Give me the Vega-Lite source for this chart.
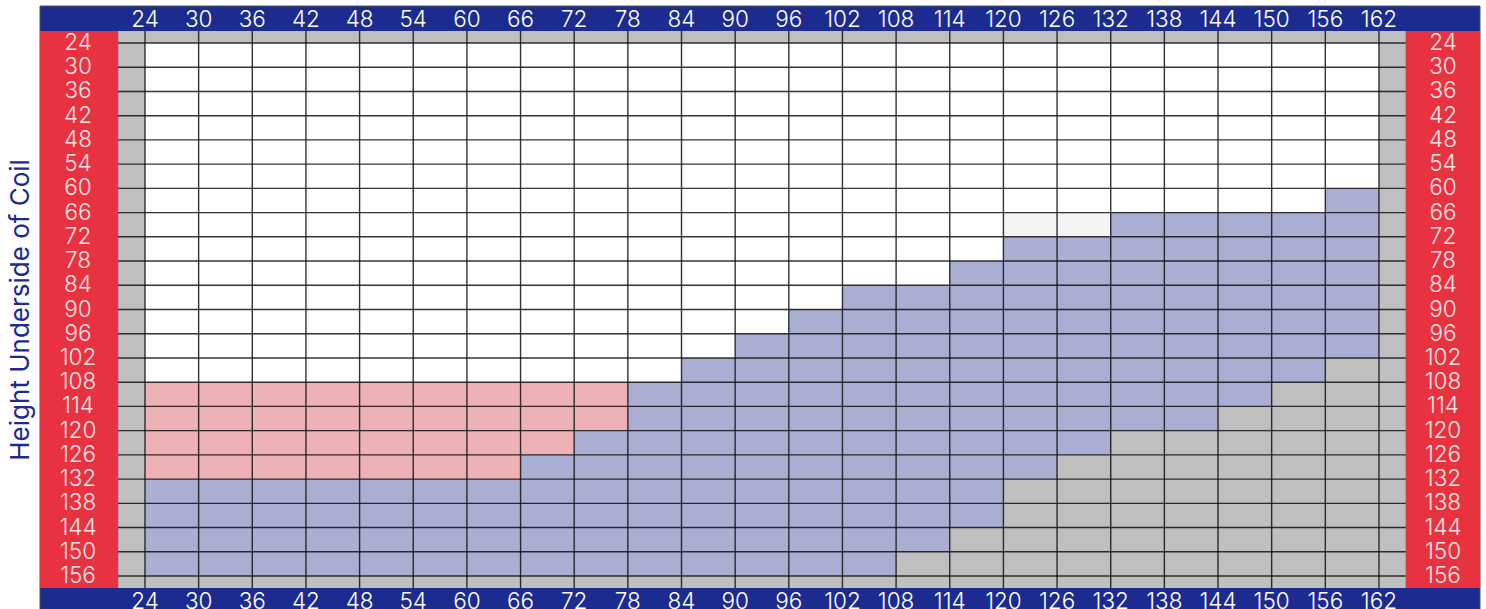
{
  "$schema": "https://vega.github.io/schema/vega-lite/v6.json",
  "width": 1486,
  "height": 609,
  "autosize": {"type": "none"},
  "padding": 0,
  "background": "#ffffff",
  "config": {"view": {"stroke": null}},
  "datasets": {
    "cells": [
      {"x": 24, "x2": 30, "y": 24, "y2": 108, "k": "W"}, {"x": 24, "x2": 30, "y": 108, "y2": 132, "k": "P"}, {"x": 24, "x2": 30, "y": 132, "y2": 156, "k": "B"},
      {"x": 30, "x2": 36, "y": 24, "y2": 108, "k": "W"}, {"x": 30, "x2": 36, "y": 108, "y2": 132, "k": "P"}, {"x": 30, "x2": 36, "y": 132, "y2": 156, "k": "B"},
      {"x": 36, "x2": 42, "y": 24, "y2": 108, "k": "W"}, {"x": 36, "x2": 42, "y": 108, "y2": 132, "k": "P"}, {"x": 36, "x2": 42, "y": 132, "y2": 156, "k": "B"},
      {"x": 42, "x2": 48, "y": 24, "y2": 108, "k": "W"}, {"x": 42, "x2": 48, "y": 108, "y2": 132, "k": "P"}, {"x": 42, "x2": 48, "y": 132, "y2": 156, "k": "B"},
      {"x": 48, "x2": 54, "y": 24, "y2": 108, "k": "W"}, {"x": 48, "x2": 54, "y": 108, "y2": 132, "k": "P"}, {"x": 48, "x2": 54, "y": 132, "y2": 156, "k": "B"},
      {"x": 54, "x2": 60, "y": 24, "y2": 108, "k": "W"}, {"x": 54, "x2": 60, "y": 108, "y2": 132, "k": "P"}, {"x": 54, "x2": 60, "y": 132, "y2": 156, "k": "B"},
      {"x": 60, "x2": 66, "y": 24, "y2": 108, "k": "W"}, {"x": 60, "x2": 66, "y": 108, "y2": 132, "k": "P"}, {"x": 60, "x2": 66, "y": 132, "y2": 156, "k": "B"},
      {"x": 66, "x2": 72, "y": 24, "y2": 108, "k": "W"}, {"x": 66, "x2": 72, "y": 108, "y2": 126, "k": "P"}, {"x": 66, "x2": 72, "y": 126, "y2": 156, "k": "B"},
      {"x": 72, "x2": 78, "y": 24, "y2": 108, "k": "W"}, {"x": 72, "x2": 78, "y": 108, "y2": 120, "k": "P"}, {"x": 72, "x2": 78, "y": 120, "y2": 156, "k": "B"},
      {"x": 78, "x2": 84, "y": 24, "y2": 108, "k": "W"}, {"x": 78, "x2": 84, "y": 108, "y2": 156, "k": "B"},
      {"x": 84, "x2": 90, "y": 24, "y2": 102, "k": "W"}, {"x": 84, "x2": 90, "y": 102, "y2": 156, "k": "B"},
      {"x": 90, "x2": 96, "y": 24, "y2": 96, "k": "W"}, {"x": 90, "x2": 96, "y": 96, "y2": 156, "k": "B"},
      {"x": 96, "x2": 102, "y": 24, "y2": 90, "k": "W"}, {"x": 96, "x2": 102, "y": 90, "y2": 156, "k": "B"},
      {"x": 102, "x2": 108, "y": 24, "y2": 84, "k": "W"}, {"x": 102, "x2": 108, "y": 84, "y2": 156, "k": "B"},
      {"x": 108, "x2": 114, "y": 24, "y2": 84, "k": "W"}, {"x": 108, "x2": 114, "y": 84, "y2": 150, "k": "B"},
      {"x": 114, "x2": 120, "y": 24, "y2": 78, "k": "W"}, {"x": 114, "x2": 120, "y": 78, "y2": 144, "k": "B"},
      {"x": 120, "x2": 126, "y": 24, "y2": 66, "k": "W"}, {"x": 120, "x2": 126, "y": 66, "y2": 72, "k": "L"}, {"x": 120, "x2": 126, "y": 72, "y2": 132, "k": "B"},
      {"x": 126, "x2": 132, "y": 24, "y2": 66, "k": "W"}, {"x": 126, "x2": 132, "y": 66, "y2": 72, "k": "L"}, {"x": 126, "x2": 132, "y": 72, "y2": 126, "k": "B"},
      {"x": 132, "x2": 138, "y": 24, "y2": 66, "k": "W"}, {"x": 132, "x2": 138, "y": 66, "y2": 120, "k": "B"},
      {"x": 138, "x2": 144, "y": 24, "y2": 66, "k": "W"}, {"x": 138, "x2": 144, "y": 66, "y2": 120, "k": "B"},
      {"x": 144, "x2": 150, "y": 24, "y2": 66, "k": "W"}, {"x": 144, "x2": 150, "y": 66, "y2": 114, "k": "B"},
      {"x": 150, "x2": 156, "y": 24, "y2": 66, "k": "W"}, {"x": 150, "x2": 156, "y": 66, "y2": 108, "k": "B"},
      {"x": 156, "x2": 162, "y": 24, "y2": 60, "k": "W"}, {"x": 156, "x2": 162, "y": 60, "y2": 102, "k": "B"}
    ],
    "cols": [
      {"v": 24}, {"v": 30}, {"v": 36}, {"v": 42}, {"v": 48}, {"v": 54}, {"v": 60}, {"v": 66}, {"v": 72}, {"v": 78}, {"v": 84}, {"v": 90},
      {"v": 96}, {"v": 102}, {"v": 108}, {"v": 114}, {"v": 120}, {"v": 126}, {"v": 132}, {"v": 138}, {"v": 144}, {"v": 150}, {"v": 156}, {"v": 162}
    ],
    "rows": [
      {"v": 24}, {"v": 30}, {"v": 36}, {"v": 42}, {"v": 48}, {"v": 54}, {"v": 60}, {"v": 66}, {"v": 72}, {"v": 78}, {"v": 84}, {"v": 90},
      {"v": 96}, {"v": 102}, {"v": 108}, {"v": 114}, {"v": 120}, {"v": 126}, {"v": 132}, {"v": 138}, {"v": 144}, {"v": 150}, {"v": 156}
    ]
  },
  "layer": [
    {
      "data": {"values": [{}]},
      "mark": {"type": "rect", "color": "#1b2b8f", "stroke": "#555555", "strokeWidth": 1},
      "encoding": {
        "x": {"datum": 12.26, "type": "quantitative", "scale": {"domain": [7.785, 173.97], "nice": false, "zero": false}, "axis": null},
        "x2": {"datum": 173.3},
        "y": {"datum": 14.84, "type": "quantitative", "scale": {"domain": [13.351, 164.17], "nice": false, "zero": false, "reverse": true}, "axis": null},
        "y2": {"datum": 166}
      }
    },
    {
      "data": {"values": [{}]},
      "mark": {"type": "rect", "color": "#e8323f"},
      "encoding": {
        "x": {"datum": 12.26, "type": "quantitative", "scale": {"domain": [7.785, 173.97], "nice": false, "zero": false}, "axis": null},
        "x2": {"datum": 21},
        "y": {"datum": 21, "type": "quantitative", "scale": {"domain": [13.351, 164.17], "nice": false, "zero": false, "reverse": true}, "axis": null},
        "y2": {"datum": 159}
      }
    },
    {
      "data": {"values": [{}]},
      "mark": {"type": "rect", "color": "#e8323f"},
      "encoding": {
        "x": {"datum": 165, "type": "quantitative", "scale": {"domain": [7.785, 173.97], "nice": false, "zero": false}, "axis": null},
        "x2": {"datum": 173.3},
        "y": {"datum": 21, "type": "quantitative", "scale": {"domain": [13.351, 164.17], "nice": false, "zero": false, "reverse": true}, "axis": null},
        "y2": {"datum": 159}
      }
    },
    {
      "data": {"values": [{}]},
      "mark": {"type": "rect", "color": "#bfbfbf"},
      "encoding": {
        "x": {"datum": 21, "type": "quantitative", "scale": {"domain": [7.785, 173.97], "nice": false, "zero": false}, "axis": null},
        "x2": {"datum": 165},
        "y": {"datum": 21, "type": "quantitative", "scale": {"domain": [13.351, 164.17], "nice": false, "zero": false, "reverse": true}, "axis": null},
        "y2": {"datum": 159}
      }
    },
    {
      "data": {"name": "cells"},
      "mark": {"type": "rect"},
      "encoding": {
        "x": {"field": "x", "type": "quantitative", "scale": {"domain": [7.785, 173.97], "nice": false, "zero": false}, "axis": null},
        "x2": {"field": "x2"},
        "y": {"field": "y", "type": "quantitative", "scale": {"domain": [13.351, 164.17], "nice": false, "zero": false, "reverse": true}, "axis": null},
        "y2": {"field": "y2"},
        "color": {"field": "k", "type": "nominal", "scale": {"domain": ["W", "P", "B", "L"], "range": ["#ffffff", "#edb1b6", "#aaaed2", "#f3f3f3"]}, "legend": null}
      }
    },
    {
      "data": {"name": "cols"},
      "mark": {"type": "rule", "color": "#111111", "strokeWidth": 1.4, "opacity": 0.85},
      "encoding": {
        "x": {"field": "v", "type": "quantitative", "scale": {"domain": [7.785, 173.97], "nice": false, "zero": false}, "axis": null},
        "y": {"datum": 21, "type": "quantitative", "scale": {"domain": [13.351, 164.17], "nice": false, "zero": false, "reverse": true}, "axis": null},
        "y2": {"datum": 159}
      }
    },
    {
      "data": {"name": "rows"},
      "mark": {"type": "rule", "color": "#111111", "strokeWidth": 1.4, "opacity": 0.85},
      "encoding": {
        "y": {"field": "v", "type": "quantitative", "scale": {"domain": [13.351, 164.17], "nice": false, "zero": false, "reverse": true}, "axis": null},
        "x": {"datum": 21, "type": "quantitative", "scale": {"domain": [7.785, 173.97], "nice": false, "zero": false}, "axis": null},
        "x2": {"datum": 165}
      }
    },
    {
      "data": {"name": "cols"},
      "mark": {"type": "text", "font": "Inter", "fontSize": 22.5, "fontWeight": 300, "color": "#ffffff", "align": "center", "baseline": "middle"},
      "encoding": {
        "x": {"field": "v", "type": "quantitative", "scale": {"domain": [7.785, 173.97], "nice": false, "zero": false}, "axis": null},
        "y": {"datum": 18.3, "type": "quantitative", "scale": {"domain": [13.351, 164.17], "nice": false, "zero": false, "reverse": true}, "axis": null},
        "text": {"field": "v", "type": "quantitative"}
      }
    },
    {
      "data": {"name": "cols"},
      "mark": {"type": "text", "font": "Inter", "fontSize": 22.5, "fontWeight": 300, "color": "#ffffff", "align": "center", "baseline": "middle"},
      "encoding": {
        "x": {"field": "v", "type": "quantitative", "scale": {"domain": [7.785, 173.97], "nice": false, "zero": false}, "axis": null},
        "y": {"datum": 162.4, "type": "quantitative", "scale": {"domain": [13.351, 164.17], "nice": false, "zero": false, "reverse": true}, "axis": null},
        "text": {"field": "v", "type": "quantitative"}
      }
    },
    {
      "data": {"name": "rows"},
      "mark": {"type": "text", "font": "Inter", "fontSize": 22.5, "fontWeight": 300, "color": "#fde4e6", "align": "center", "baseline": "middle"},
      "encoding": {
        "x": {"datum": 16.51, "type": "quantitative", "scale": {"domain": [7.785, 173.97], "nice": false, "zero": false}, "axis": null},
        "y": {"field": "v", "type": "quantitative", "scale": {"domain": [13.351, 164.17], "nice": false, "zero": false, "reverse": true}, "axis": null},
        "text": {"field": "v", "type": "quantitative"}
      }
    },
    {
      "data": {"name": "rows"},
      "mark": {"type": "text", "font": "Inter", "fontSize": 22.5, "fontWeight": 300, "color": "#fde4e6", "align": "center", "baseline": "middle"},
      "encoding": {
        "x": {"datum": 169.16, "type": "quantitative", "scale": {"domain": [7.785, 173.97], "nice": false, "zero": false}, "axis": null},
        "y": {"field": "v", "type": "quantitative", "scale": {"domain": [13.351, 164.17], "nice": false, "zero": false, "reverse": true}, "axis": null},
        "text": {"field": "v", "type": "quantitative"}
      }
    },
    {
      "data": {"values": [{"t": "Height Underside of Coil"}]},
      "mark": {"type": "text", "font": "Inter", "fontSize": 26, "color": "#1b2b8f", "align": "center", "baseline": "middle", "angle": 270},
      "encoding": {
        "x": {"datum": 10.1, "type": "quantitative", "scale": {"domain": [7.785, 173.97], "nice": false, "zero": false}, "axis": null},
        "y": {"datum": 90.1, "type": "quantitative", "scale": {"domain": [13.351, 164.17], "nice": false, "zero": false, "reverse": true}, "axis": null},
        "text": {"field": "t", "type": "nominal"}
      }
    }
  ]
}
